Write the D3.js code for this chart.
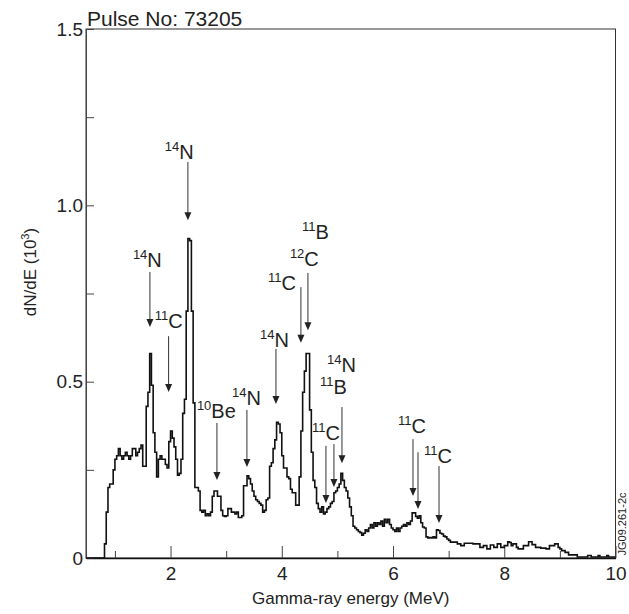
<!DOCTYPE html>
<html><head><meta charset="utf-8">
<script src="https://cdn.jsdelivr.net/npm/d3@7"></script>
<style>body{margin:0;background:#fff}svg{display:block}text,tspan{font-family:"Liberation Sans",Arial,Helvetica,sans-serif;fill:#222}</style>
</head><body><svg id="c" width="629" height="614"></svg>
<script>
// Histogram: bin width 1/32 MeV starting at 0.75 MeV, counts in units of 10^3
const binStart = 0.75;
const binWidth = 1 / 32;
const counts = [
  0,0,0.04,0.13,0.20,0.21,0.21,0.25,0.28,0.29,0.31,0.29,0.28,0.29,0.30,0.29,
  0.28,0.29,0.31,0.31,0.29,0.30,0.31,0.32,0.26,0.26,0.43,0.47,0.58,0.49,0.355,0.30,
  0.23,0.28,0.29,0.28,0.28,0.265,0.255,0.33,0.36,0.34,0.315,0.28,0.235,0.24,0.28,0.41,
  0.45,0.70,0.906,0.90,0.70,0.44,0.20,0.20,0.19,0.135,0.13,0.135,0.12,0.125,0.12,0.13,
  0.175,0.19,0.19,0.175,0.175,0.135,0.12,0.118,0.12,0.14,0.14,0.13,0.13,0.125,0.13,0.115,
  0.115,0.12,0.205,0.205,0.233,0.225,0.21,0.19,0.175,0.165,0.16,0.155,0.15,0.13,0.135,0.165,
  0.17,0.26,0.27,0.31,0.335,0.385,0.38,0.355,0.29,0.255,0.255,0.23,0.225,0.195,0.185,0.185,
  0.15,0.15,0.23,0.36,0.47,0.53,0.58,0.58,0.42,0.30,0.22,0.20,0.155,0.14,0.13,0.145,
  0.125,0.13,0.14,0.145,0.155,0.16,0.185,0.19,0.20,0.21,0.24,0.22,0.20,0.19,0.17,0.145,
  0.12,0.09,0.085,0.08,0.075,0.072,0.065,0.07,0.08,0.075,0.085,0.095,0.085,0.10,0.09,0.10,
  0.095,0.105,0.09,0.11,0.10,0.11,0.095,0.085,0.08,0.075,0.085,0.075,0.085,0.09,0.095,0.09,
  0.10,0.095,0.105,0.128,0.128,0.118,0.113,0.12,0.10,0.088,0.085,0.06,0.057,0.058,0.057,0.06,
  0.057,0.08,0.078,0.07,0.068,0.062,0.06,0.054,0.05,0.045,0.045,0.045,0.045,0.04,0.04,0.035,
  0.035,0.042,0.042,0.042,0.042,0.042,0.04,0.04,0.04,0.04,0.03,0.03,0.035,0.035,0.026,0.026,
  0.037,0.037,0.03,0.03,0.04,0.04,0.03,0.03,0.035,0.035,0.046,0.044,0.035,0.04,0.04,0.03,
  0.026,0.026,0.026,0.035,0.035,0.035,0.046,0.046,0.038,0.038,0.03,0.03,0.03,0.028,0.028,0.028,
  0.026,0.026,0.035,0.035,0.035,0.04,0.04,0.03,0.026,0.021,0.021,0.016,0.016,0.009,0.009,0.009,
  0.009,0.009,0.003,0.003,0.003,0.003,0.003,0.003,0.007,0.007,0.003,0.003,0.003,0.003,0.007,0.003,
  0.003,0.003,0.003,0.007,0.003,0.003,0.003,0.003
];

const xTickValues = [1,2,3,4,5,6,7,8,9,10];
const xTickLabels = ["","2","","4","","6","","8","","10"];
const yTickValues = [0,0.25,0.5,0.75,1.0,1.25,1.5];
const yTickLabels = ["0","","0.5","","1.0","","1.5"];

// Annotations: isotope mass number, element, label anchor (energy, value)
const annMass = ["14","14","11","10","14","14","11","12","11","14","11","11","11","11"];
const annElem = ["N","N","C","Be","N","N","C","C","B","N","B","C","C","C"];
const annE    = [1.898,1.323,1.718,2.474,3.104,3.607,3.751,4.146,4.362,4.812,4.686,4.542,6.089,6.557];
const annV    = [1.131,0.825,0.652,0.397,0.434,0.598,0.760,0.828,0.904,0.527,0.465,0.335,0.355,0.270];
// Arrows: energy, top value, tip value
const arrE    = [2.312,1.629,1.965,2.834,3.373,3.895,4.344,4.470,5.082,4.794,4.938,6.359,6.449,6.827];
const arrTop  = [1.123,0.811,0.629,0.383,0.420,0.593,0.768,0.808,0.428,0.318,0.323,0.337,0.300,0.261];
const arrTip  = [0.958,0.655,0.471,0.221,0.258,0.437,0.610,0.646,0.269,0.156,0.201,0.176,0.139,0.099];

const svg = d3.select("#c");
const x = d3.scaleLinear().domain([0.48, 10]).range([86, 615.5]);
const y = d3.scaleLinear().domain([0, 1.5]).range([558, 29]);

// frame
svg.append("rect").attr("x", x(0.48)).attr("y", y(1.5))
  .attr("width", x(10) - x(0.48)).attr("height", y(0) - y(1.5))
  .attr("fill", "none").attr("stroke", "#333").attr("stroke-width", 1);

// x axis (ticks inside)
const xAxis = d3.axisBottom(x).tickValues(xTickValues)
  .tickSizeInner(0).tickSizeOuter(0)
  .tickFormat((d, i) => xTickLabels[i]);
const gx = svg.append("g").attr("transform", `translate(0,${y(0)})`).call(xAxis);
gx.select(".domain").attr("stroke", "#111").attr("stroke-width", 1.5);
gx.selectAll(".tick line").attr("y2", (d, i) => xTickLabels[i] ? -12 : -7).attr("stroke", "#444");
gx.selectAll(".tick text").attr("y", 9).attr("dy", "0.71em").attr("font-size", 19).attr("fill", "#222");

// y axis
const yAxis = d3.axisLeft(y).tickValues(yTickValues)
  .tickSizeInner(0).tickSizeOuter(0)
  .tickFormat((d, i) => yTickLabels[i]);
const gy = svg.append("g").attr("transform", `translate(${x(0.48)},0)`).call(yAxis);
gy.select(".domain").attr("stroke", "#444").attr("stroke-width", 1);
gy.selectAll(".tick line").attr("x2", 8).attr("stroke", "#444");
gy.selectAll(".tick text").attr("x", -3).attr("font-size", 19).attr("fill", "#222");

// histogram
const pts = [{e: 0.48, v: 0}];
counts.forEach((c, i) => pts.push({e: binStart + i * binWidth, v: c}));
pts.push({e: binStart + counts.length * binWidth, v: counts[counts.length - 1]});
const line = d3.line().x(d => x(d.e)).y(d => y(d.v)).curve(d3.curveStepAfter);
svg.append("path").datum(pts).attr("d", line)
  .attr("fill", "none").attr("stroke", "#111").attr("stroke-width", 1.6)
  .attr("stroke-linejoin", "miter");

// arrows
const ag = svg.append("g");
arrE.forEach((e, i) => {
  const px = x(e), yt = y(arrTop[i]), yp = y(arrTip[i]);
  ag.append("line").attr("x1", px).attr("x2", px).attr("y1", yt).attr("y2", yp - 6)
    .attr("stroke", "#333").attr("stroke-width", 1);
  ag.append("path").attr("d", `M${px - 3.5},${yp - 8}L${px + 3.5},${yp - 8}L${px},${yp}Z`).attr("fill", "#222");
});

// labels
annE.forEach((e, i) => {
  const t = svg.append("text").attr("x", x(e)).attr("y", y(annV[i])).attr("fill", "#222");
  t.append("tspan").attr("font-size", 13).attr("dy", -8).attr("fill", "#222").text(annMass[i]);
  t.append("tspan").attr("font-size", 20).attr("dy", 8).attr("fill", "#222").text(annElem[i]);
});

// titles
svg.append("text").attr("x", 87).attr("y", 26).attr("font-size", 21).text("Pulse No: 73205");
svg.append("text").attr("x", (x(0.48) + x(10)) / 2).attr("y", 604).attr("text-anchor", "middle")
  .attr("font-size", 17).text("Gamma-ray energy (MeV)");
const yt = svg.append("text").attr("transform", "translate(36,272) rotate(-90)").attr("text-anchor", "middle").attr("font-size", 17);
yt.append("tspan").text("dN/dE (10");
yt.append("tspan").attr("font-size", 11).attr("dy", -7).text("3");
yt.append("tspan").attr("dy", 7).text(")");
svg.append("text").attr("transform", "translate(626,524) rotate(-90)").attr("text-anchor", "middle")
  .attr("font-size", 11).attr("fill", "#333").text("JG09.261-2c");
</script></body></html>
